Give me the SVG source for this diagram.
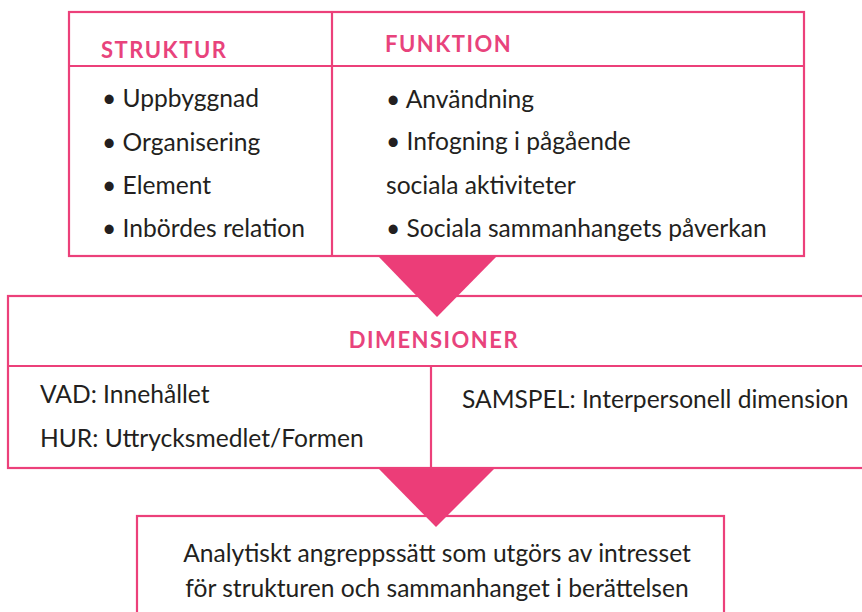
<svg xmlns="http://www.w3.org/2000/svg" width="862" height="612" viewBox="0 0 862 612">
<style>
.box{fill:#ffffff;stroke:#EC407A;stroke-width:2.2}
.ln{stroke:#EC407A;stroke-width:2.2;fill:none}
.tri{fill:#EC3D78}
.t{font-family:Lato,"Open Sans","DejaVu Sans",sans-serif;font-size:24.6px;fill:#231F20}
.h{font-family:Lato,"Open Sans","DejaVu Sans",sans-serif;font-size:22px;font-weight:700;fill:#E8437C;letter-spacing:1.5px}
</style>
<rect width="862" height="612" fill="#ffffff"/>
<g id="top-box">
<rect class="box" x="69" y="12" width="735" height="244"/>
<line class="ln" x1="69" y1="66" x2="804" y2="66"/>
<line class="ln" x1="332" y1="12" x2="332" y2="256"/>
<text class="h" x="101" y="58">STRUKTUR</text>
<text class="h" x="385" y="52">FUNKTION</text>
<text class="t" x="102" y="107">• Uppbyggnad</text>
<text class="t" x="102" y="151">• Organisering</text>
<text class="t" x="102" y="194">• Element</text>
<text class="t" x="102" y="237">• Inbördes relation</text>
<text class="t" x="386" y="108">• Användning</text>
<text class="t" x="386" y="150">• Infogning i pågående</text>
<text class="t" x="386" y="194">sociala aktiviteter</text>
<text class="t" x="386" y="237">• Sociala sammanhangets påverkan</text>
</g>
<g id="middle-box">
<rect class="box" x="8" y="296" width="870" height="172"/>
<line class="ln" x1="8" y1="366" x2="862" y2="366"/>
<line class="ln" x1="431" y1="366" x2="431" y2="468"/>
<text class="h" x="434" y="348" text-anchor="middle">DIMENSIONER</text>
<text class="t" x="40" y="403">VAD: Innehållet</text>
<text class="t" x="40" y="447">HUR: Uttrycksmedlet/Formen</text>
<text class="t" x="462" y="408">SAMSPEL: Interpersonell dimension</text>
</g>
<g id="bottom-box">
<rect class="box" x="137" y="516" width="587" height="110"/>
<text class="t" x="437" y="562" text-anchor="middle">Analytiskt angreppssätt som utgörs av intresset</text>
<text class="t" x="437" y="597" text-anchor="middle">för strukturen och sammanhanget i berättelsen</text>
</g>
<g id="connectors">
<polygon class="tri" points="378,256 497,256 437,317"/>
<polygon class="tri" points="379,469 494,469 436,527"/>
</g>
</svg>
